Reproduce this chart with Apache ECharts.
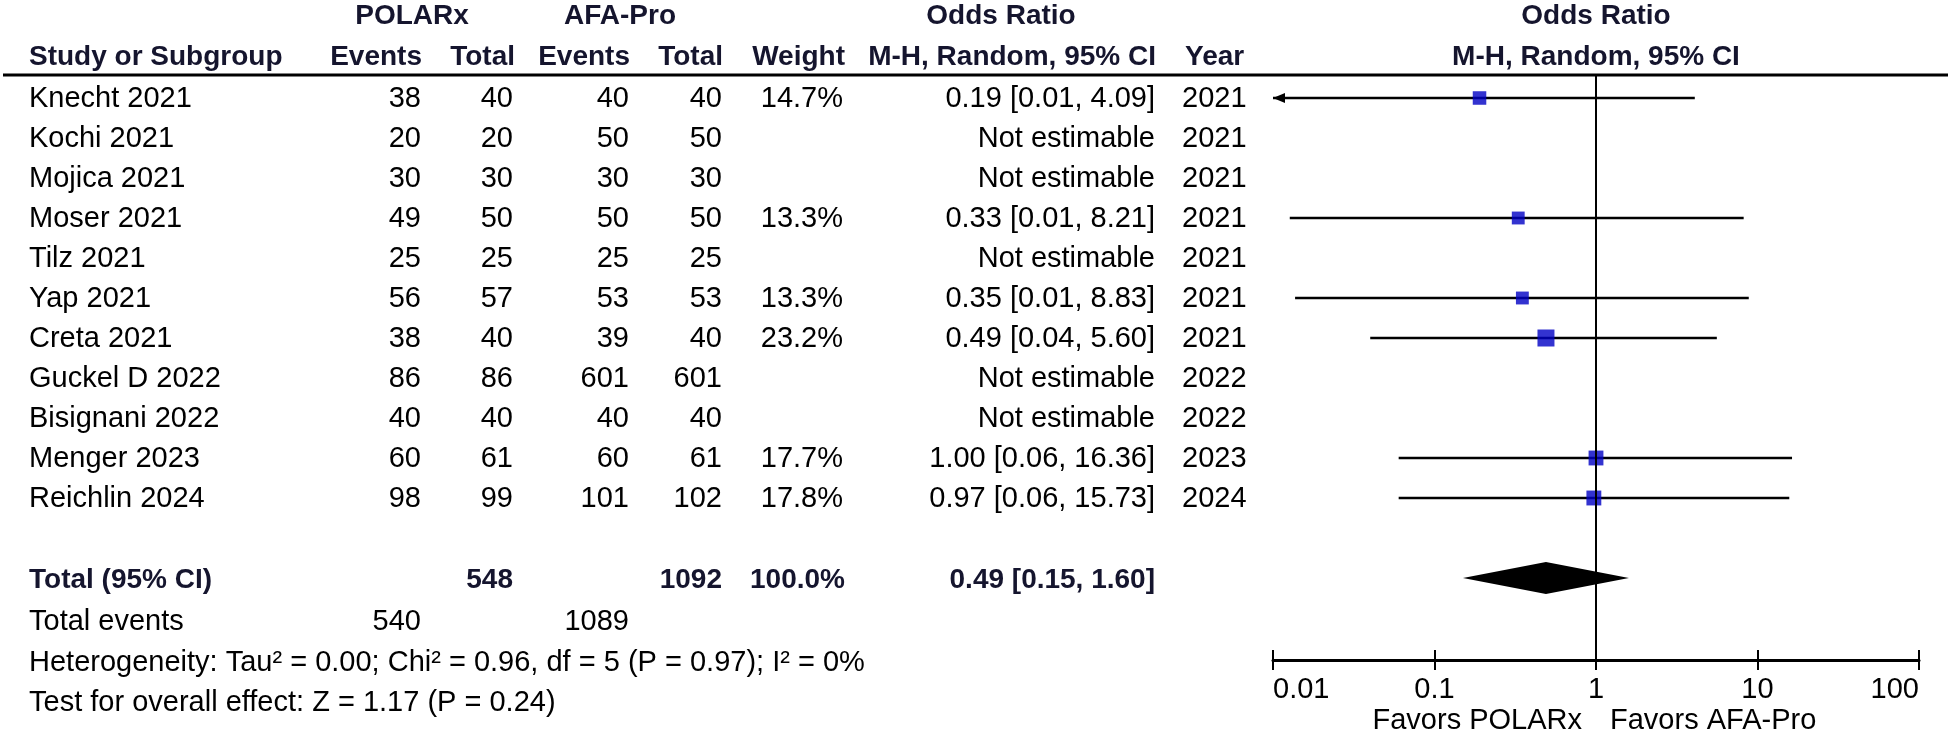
<!DOCTYPE html>
<html>
<head>
<meta charset="utf-8">
<script src="https://cdn.jsdelivr.net/npm/echarts@6/dist/echarts.min.js"></script>
<style>
html,body{margin:0;padding:0;background:#fff;}
#chart{width:1948px;height:735px;}
</style>
</head>
<body>
<div id="chart"></div>
<script>
// ---------------- data ----------------
const studies = ['Knecht 2021','Kochi 2021','Mojica 2021','Moser 2021','Tilz 2021','Yap 2021','Creta 2021','Guckel D 2022','Bisignani 2022','Menger 2023','Reichlin 2024'];
const polarxEvents = [38,20,30,49,25,56,38,86,40,60,98];
const polarxTotal  = [40,20,30,50,25,57,40,86,40,61,99];
const afaEvents    = [40,50,30,50,25,53,39,601,40,60,101];
const afaTotal     = [40,50,30,50,25,53,40,601,40,61,102];
const weights      = [14.7,null,null,13.3,null,13.3,23.2,null,null,17.7,17.8];
const oddsRatio    = [0.19,null,null,0.33,null,0.35,0.49,null,null,1.00,0.97];
const ciLower      = [0.01,null,null,0.01,null,0.01,0.04,null,null,0.06,0.06];
const ciUpper      = [4.09,null,null,8.21,null,8.83,5.60,null,null,16.36,15.73];
// lower limits as drawn in the plot (table shows them rounded)
const ciLowerDrawn = [0.009,null,null,0.0127,null,0.0137,0.04,null,null,0.06,0.06];
const years        = [2021,2021,2021,2021,2021,2021,2021,2022,2022,2023,2024];

const totalPolarx = 548, totalAfa = 1092, totalWeight = '100.0%';
const pooledOR = 0.49, pooledLower = 0.15, pooledUpper = 1.60;
const totalEventsPolarx = 540, totalEventsAfa = 1089;
const heterogeneityText = 'Heterogeneity: Tau\u00B2 = 0.00; Chi\u00B2 = 0.96, df = 5 (P = 0.97); I\u00B2 = 0%';
const overallEffectText = 'Test for overall effect: Z = 1.17 (P = 0.24)';
const tickLabels = ['0.01','0.1','1','10','100'];
const tickValues = [0.01,0.1,1,10,100];

// ---------------- layout ----------------
const TOTAL_ROW = 12;
const FONT = '"Liberation Sans", Arial, sans-serif';
const NF = '29px ' + FONT;
const BF = 'bold 28px ' + FONT;
const INK = '#000';
const HEAD = '#15152e';

const chart = echarts.init(document.getElementById('chart'), null, {renderer:'canvas'});

const ciData = [], sqData = [];
oddsRatio.forEach((v,i)=>{
  if (v != null) {
    ciData.push([ciLowerDrawn[i], i, ciUpper[i]]);
    sqData.push([v, i, weights[i]]);
  }
});

const option = {
  backgroundColor:'#fff',
  animation:false,
  grid:{left:1273, right:29, top:75, bottom:75, containLabel:false},
  xAxis:[{
    type:'log', logBase:10, min:0.01, max:100, position:'bottom',
    axisLine:{show:true, onZero:false, lineStyle:{color:'#000', width:3}},
    axisTick:{show:true, inside:false, length:10, lineStyle:{color:'#000', width:2}},
    axisLabel:{show:true, margin:15, color:'#000', fontSize:29, fontFamily:'Liberation Sans',
      alignMinLabel:'left', alignMaxLabel:'right',
      formatter:(val)=>{ const k = tickValues.findIndex(t=>Math.abs(Math.log10(t)-Math.log10(val))<1e-6); return k>=0?tickLabels[k]:''; }},
    splitLine:{show:false}, minorTick:{show:false}
  },{
    type:'log', logBase:10, min:0.01, max:100, position:'top', offset:-585,
    axisLine:{show:false, onZero:false},
    axisTick:{show:true, inside:false, length:10, lineStyle:{color:'#000', width:2}},
    axisLabel:{show:false}, splitLine:{show:false}
  }],
  yAxis:{type:'value', min:-0.575, max:14.05, inverse:true, show:false},
  series:[
    {
      type:'custom', name:'ci', z:2,
      data:ciData,
      encode:{x:[0,2], y:1},
      renderItem:(params, api)=>{
        const lo = api.value(0), row = api.value(1), hi = api.value(2);
        const clipped = lo < 0.01;
        const p1 = api.coord([clipped?0.01:lo, row]);
        const p2 = api.coord([hi, row]);
        const children = [{
          type:'line', shape:{x1:p1[0], y1:p1[1], x2:p2[0], y2:p2[1]},
          style:{stroke:'#000', lineWidth:2.5}
        }];
        if (clipped) {
          children.push({type:'polygon', shape:{points:[[p1[0],p1[1]],[p1[0]+12,p1[1]-5],[p1[0]+12,p1[1]+5]]}, style:{fill:'#000'}});
        }
        return {type:'group', children};
      },
      markLine:{
        silent:true, symbol:['none','none'], label:{show:false},
        lineStyle:{color:'#000', width:2, type:'solid'},
        data:[{xAxis:1}]
      }
    },
    {
      type:'scatter', name:'or', z:3,
      data:sqData, symbol:'rect',
      symbolSize:(val)=>17*Math.sqrt(val[2]/23.2),
      itemStyle:{color:'#0000c4'}
    },
    {
      type:'custom', name:'pooled', z:3,
      data:[[pooledOR, TOTAL_ROW, pooledLower, pooledUpper]],
      encode:{x:[0,2,3], y:1},
      renderItem:(params, api)=>{
        const c = api.coord([api.value(0), api.value(1)]);
        const l = api.coord([api.value(2), api.value(1)]);
        const r = api.coord([api.value(3), api.value(1)]);
        return {type:'polygon', shape:{points:[[l[0],l[1]],[c[0],c[1]-16],[r[0],r[1]],[c[0],c[1]+16]]}, style:{fill:'#000'}};
      }
    }
  ]
};
chart.setOption(option);

// ---------------- table text ----------------
const Y = (row)=>chart.convertToPixel({yAxisIndex:0}, row) + 1;
const X = (v)=>chart.convertToPixel({xAxisIndex:0}, v);
const g = [];
function t(text, x, y, align, font, color){
  g.push({type:'text', x:x, y:y, silent:true,
    style:{text:String(text), font:font||NF, fill:color||INK, textAlign:align||'left', textVerticalAlign:'middle'}});
}
// headers
t('POLARx', 412, 16, 'center', BF, HEAD);
t('AFA-Pro', 620, 16, 'center', BF, HEAD);
t('Odds Ratio', 1001, 16, 'center', BF, HEAD);
t('Odds Ratio', X(1), 16, 'center', BF, HEAD);
t('Study or Subgroup', 29, 57, 'left', BF, HEAD);
t('Events', 422, 57, 'right', BF, HEAD);
t('Total', 515, 57, 'right', BF, HEAD);
t('Events', 630, 57, 'right', BF, HEAD);
t('Total', 723, 57, 'right', BF, HEAD);
t('Weight', 845, 57, 'right', BF, HEAD);
t('M-H, Random, 95% CI', 1156, 57, 'right', BF, HEAD);
t('Year', 1185, 57, 'left', BF, HEAD);
t('M-H, Random, 95% CI', X(1), 57, 'center', BF, HEAD);

studies.forEach((s,i)=>{
  const y = Y(i);
  t(s, 29, y, 'left');
  t(polarxEvents[i], 421, y, 'right');
  t(polarxTotal[i], 513, y, 'right');
  t(afaEvents[i], 629, y, 'right');
  t(afaTotal[i], 722, y, 'right');
  if (weights[i] != null) t(weights[i].toFixed(1)+'%', 843, y, 'right');
  const orTxt = oddsRatio[i]==null ? 'Not estimable'
    : oddsRatio[i].toFixed(2)+' ['+ciLower[i].toFixed(2)+', '+ciUpper[i].toFixed(2)+']';
  t(orTxt, 1155, y, 'right');
  t(years[i], 1182, y, 'left');
});
// totals
const yt = Y(TOTAL_ROW) + 1;
t('Total (95% CI)', 29, yt, 'left', BF, HEAD);
t(totalPolarx, 513, yt, 'right', BF, HEAD);
t(totalAfa, 722, yt, 'right', BF, HEAD);
t(totalWeight, 845, yt, 'right', BF, HEAD);
t(pooledOR.toFixed(2)+' ['+pooledLower.toFixed(2)+', '+pooledUpper.toFixed(2)+']', 1155, yt, 'right', BF, HEAD);
t('Total events', 29, 622, 'left');
t(totalEventsPolarx, 421, 622, 'right');
t(totalEventsAfa, 629, 622, 'right');
t(heterogeneityText, 29, 663, 'left');
t(overallEffectText, 29, 703, 'left');
// favours
t('Favors POLARx', X(1)-14, 721, 'right');
t('Favors AFA-Pro', X(1)+14, 721, 'left');
// header rule
g.push({type:'line', silent:true, shape:{x1:3, y1:75, x2:1948, y2:75}, style:{stroke:'#000', lineWidth:3}});

chart.setOption({graphic:g});
</script>
</body>
</html>
